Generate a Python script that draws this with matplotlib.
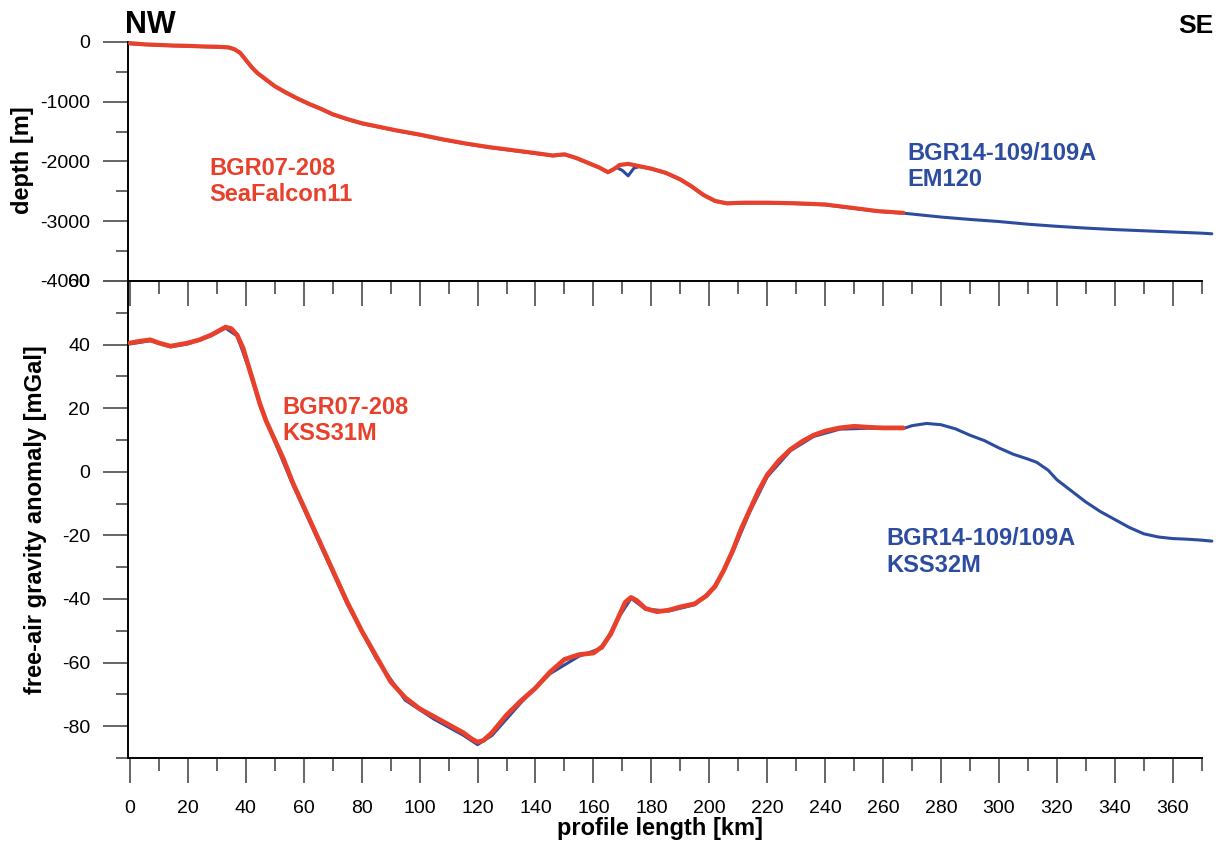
import numpy as np
import matplotlib
matplotlib.use("Agg")
import matplotlib.pyplot as plt
from matplotlib.ticker import MultipleLocator

plt.rcParams['font.family'] = ['Liberation Sans', 'DejaVu Sans']
plt.rcParams['axes.unicode_minus'] = False

RED = '#e8402b'
BLUE = '#2c4ca0'

# bathymetry, BGR07-208 (SeaFalcon11)
km_depth_07 = [0, 5, 10, 15, 20, 25, 30, 34, 36, 38, 40, 42, 44, 47, 50, 54, 58,
               62, 66, 70, 75, 80, 86, 92, 100, 108, 116, 124, 132, 140, 146,
               150, 154, 158, 162, 165, 167, 169, 172, 176, 180, 185, 190, 194,
               198, 202, 206, 212, 220, 230, 240, 250, 258, 267]
depth_07 = [-20, -40, -50, -60, -65, -75, -80, -90, -120, -180, -300, -420, -520,
            -630, -740, -850, -950, -1040, -1120, -1210, -1290, -1360, -1420,
            -1480, -1550, -1630, -1700, -1760, -1810, -1860, -1900, -1880, -1940,
            -2020, -2100, -2180, -2130, -2060, -2040, -2080, -2120, -2190, -2300,
            -2420, -2560, -2660, -2700, -2690, -2690, -2700, -2720, -2780, -2830,
            -2860]

# bathymetry, BGR14-109/109A (EM120)
km_depth_14 = [0, 10, 20, 30, 34, 36, 38, 40, 42, 44, 47, 50, 54, 58, 62, 66, 70,
               75, 80, 86, 92, 100, 108, 116, 124, 132, 140, 146, 150, 154, 158,
               162, 165, 168, 170, 172, 174, 176, 180, 185, 190, 194, 198, 202,
               206, 212, 220, 230, 240, 250, 258, 267, 270, 280, 290, 300, 310,
               320, 330, 340, 350, 360, 370, 373.5]
depth_14 = [-30, -55, -70, -85, -95, -125, -185, -305, -425, -525, -635, -745,
            -855, -955, -1045, -1125, -1215, -1295, -1365, -1425, -1485, -1555,
            -1635, -1705, -1765, -1815, -1865, -1905, -1885, -1945, -2025, -2105,
            -2180, -2100, -2150, -2240, -2110, -2085, -2125, -2195, -2305, -2425,
            -2565, -2665, -2705, -2695, -2695, -2705, -2725, -2785, -2835, -2865,
            -2880, -2930, -2970, -3005, -3050, -3085, -3115, -3140, -3160, -3180,
            -3200, -3210]

# free-air gravity, BGR07-208 (KSS31M)
km_grav_07 = [0, 3, 7, 10, 14, 17, 20, 24, 28, 31, 33, 35, 37, 39, 41, 43, 45, 47,
              50, 53, 56, 60, 65, 70, 75, 80, 85, 90, 95, 100, 105, 110, 115, 118,
              120, 122, 125, 130, 135, 140, 145, 150, 155, 160, 163, 166, 169,
              171, 173, 175, 178, 182, 186, 190, 195, 199, 202, 205, 208, 211,
              214, 217, 220, 224, 228, 232, 236, 240, 245, 250, 255, 260, 267]
grav_07 = [40.5, 41.0, 41.5, 40.5, 39.5, 40.0, 40.5, 41.5, 43.0, 44.5, 45.5, 45.0,
           43.0, 39.0, 33.0, 27.0, 21.0, 16.0, 10.0, 4.0, -3.0, -11.0, -21.0,
           -31.0, -41.0, -50.0, -58.0, -66.0, -71.0, -74.5, -77.0, -79.5, -82.0,
           -84.0, -85.0, -84.5, -82.0, -76.5, -72.0, -68.0, -63.0, -59.0, -57.5,
           -57.0, -55.0, -51.0, -45.0, -41.0, -39.5, -40.5, -43.0, -44.0, -43.5,
           -42.5, -41.5, -39.0, -36.0, -31.0, -25.0, -18.0, -12.0, -6.0, -1.0,
           3.5, 7.0, 9.5, 11.5, 12.8, 13.8, 14.3, 14.0, 13.8, 13.8]

# free-air gravity, BGR14-109/109A (KSS32M)
km_grav_14 = [0, 7, 14, 20, 28, 33, 37, 41, 45, 50, 56, 65, 75, 85, 95, 105, 115,
              120, 125, 135, 145, 155, 163, 169, 173, 178, 186, 195, 202, 208,
              214, 220, 228, 236, 245, 255, 267, 270, 275, 280, 285, 290, 295,
              300, 305, 310, 313, 317, 320, 325, 330, 335, 340, 345, 350, 355,
              360, 365, 370, 373.5]
grav_14 = [40.2, 41.2, 39.3, 40.2, 42.8, 45.2, 42.7, 32.6, 20.6, 9.5, -3.6, -21.6,
           -41.6, -58.7, -71.8, -77.8, -82.8, -85.8, -82.9, -72.6, -63.5, -58.0,
           -55.4, -45.4, -39.8, -43.2, -43.8, -41.8, -36.4, -25.5, -12.6, -1.6,
           6.6, 11.1, 13.4, 13.7, 13.6, 14.5, 15.2, 14.8, 13.5, 11.5, 9.8, 7.5,
           5.5, 4.0, 3.0, 0.5, -2.5, -6.0, -9.5, -12.5, -15.0, -17.5, -19.5,
           -20.5, -21.0, -21.2, -21.5, -21.8]

fig = plt.figure(figsize=(12.18, 8.41), dpi=100)
ax_top = fig.add_axes([0.1048, 0.6659, 0.8818, 0.2842])
ax_bot = fig.add_axes([0.1048, 0.0987, 0.8818, 0.5672], sharex=ax_top)

line_kw = dict(clip_on=False, solid_joinstyle='round', solid_capstyle='round')
ax_top.plot(km_depth_14, depth_14, color=BLUE, lw=2.2, zorder=3, **line_kw)
ax_top.plot(km_depth_07, depth_07, color=RED, lw=3.0, zorder=4, **line_kw)
ax_bot.plot(km_grav_14, grav_14, color=BLUE, lw=2.2, zorder=3, **line_kw)
ax_bot.plot(km_grav_07, grav_07, color=RED, lw=3.4, zorder=4, **line_kw)

ax_top.set_xlim(-0.8, 370)
ax_top.set_ylim(-4000, 0)
ax_bot.set_ylim(-90, 60)

ax_top.yaxis.set_major_locator(MultipleLocator(1000))
ax_top.yaxis.set_minor_locator(MultipleLocator(500))
ax_bot.yaxis.set_major_locator(MultipleLocator(20))
ax_bot.yaxis.set_minor_locator(MultipleLocator(10))
ax_bot.xaxis.set_major_locator(MultipleLocator(20))
ax_bot.xaxis.set_minor_locator(MultipleLocator(10))

for ax in (ax_top, ax_bot):
    ax.patch.set_alpha(0)
    for side in ('top', 'right'):
        ax.spines[side].set_visible(False)
    for side in ('left', 'bottom'):
        ax.spines[side].set_linewidth(1.4)
    ax.tick_params(which='major', direction='out', length=18, width=1.3,
                   color='0.35', labelsize=14, pad=9)
    ax.tick_params(which='minor', direction='out', length=9, width=1.3,
                   color='0.35')

ax_top.tick_params(axis='x', which='both', labelbottom=False)
ax_bot.tick_params(axis='x', which='major', pad=12)

fig.text(0.0185, 0.81, 'depth [m]', rotation=90, ha='center', va='center',
         fontsize=17, fontweight='bold')
fig.text(0.029, 0.382, 'free-air gravity anomaly [mGal]', rotation=90,
         ha='center', va='center', fontsize=17, fontweight='bold')
fig.text(0.542, 0.015, 'profile length [km]', ha='center', va='center',
         fontsize=17, fontweight='bold')

fig.text(0.103, 0.961, 'NW', ha='left', va='baseline', fontsize=22,
         fontweight='bold')
fig.text(0.996, 0.961, 'SE', ha='right', va='baseline', fontsize=19,
         fontweight='bold')

label_kw = dict(transform=fig.transFigure, fontsize=17, fontweight='bold',
                va='center', linespacing=1.2)
ax_top.text(0.172, 0.784, 'BGR07-208\nSeaFalcon11', color=RED, **label_kw)
ax_top.text(0.745, 0.802, 'BGR14-109/109A\nEM120', color=BLUE, **label_kw)
ax_bot.text(0.232, 0.5, 'BGR07-208\nKSS31M', color=RED, **label_kw)
ax_bot.text(0.728, 0.3436, 'BGR14-109/109A\nKSS32M', color=BLUE, **label_kw)

fig.savefig('out.png', dpi=100)
